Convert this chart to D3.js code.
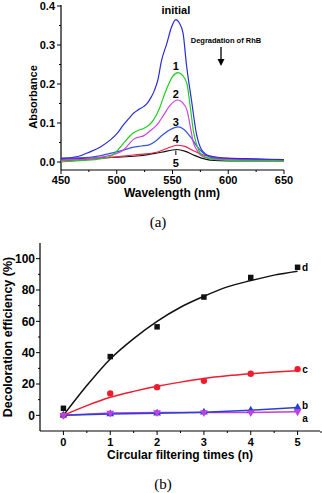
<!DOCTYPE html>
<html>
<head>
<meta charset="utf-8">
<script src="https://cdn.jsdelivr.net/npm/d3@7"></script>
<style>
  body { margin: 0; background: #fff; }
  svg { display: block; }
  text { font-family: "Liberation Sans", Arial, sans-serif; font-weight: bold; fill: #000; }
  .panel { font-family: "Liberation Serif", "Times New Roman", serif; font-weight: normal; }
</style>
</head>
<body>
<svg id="chart" width="322" height="493"></svg>
<script>
// ---- panel (a): absorption spectra ----
var spekNavn = ["initial", "1", "2", "3", "4", "5"];
var spekFarger = ["#2b2bd6", "#22cc22", "#cc44dd", "#3355dd", "#ee2244", "#111111"];
var spekInitial = [[450,0.009],[465,0.014],[476,0.026],[485,0.038],[494,0.056],[500,0.072],[506,0.095],[511,0.112],[515,0.125],[520,0.135],[524,0.142],[528,0.153],[531,0.167],[534,0.185],[537,0.212],[540,0.258],[545,0.305],[549,0.345],[553,0.365],[556,0.357],[559.5,0.33],[562.5,0.25],[567,0.159],[571.5,0.072],[576,0.032],[583,0.016],[600,0.01],[625,0.008],[650,0.006]];
var spek1 = [[450,0.0],[470,0.004],[485,0.008],[494,0.014],[500,0.028],[506,0.048],[511,0.064],[515,0.075],[520,0.082],[524,0.086],[529,0.095],[533,0.108],[538,0.135],[542,0.167],[546,0.196],[550,0.219],[555,0.229],[559,0.222],[563,0.2],[566,0.14],[568.7,0.08],[572,0.042],[575,0.022],[580,0.012],[586,0.007],[600,0.004],[650,0.002]];
var spek2 = [[450,0.005],[480,0.01],[494,0.017],[500,0.022],[506,0.031],[511,0.046],[515,0.058],[520,0.064],[524,0.067],[530,0.08],[536,0.095],[542,0.12],[548,0.146],[555,0.159],[559,0.152],[563,0.133],[566,0.09],[568.7,0.05],[572,0.03],[575,0.018],[582,0.01],[600,0.006],[650,0.004]];
var spek3 = [[450,0.01],[476,0.012],[494,0.022],[505,0.03],[515,0.038],[522,0.041],[529,0.044],[535,0.054],[541,0.069],[548,0.083],[555,0.09],[560,0.084],[566,0.065],[572,0.04],[578,0.022],[590,0.009],[650,0.006]];
var spek4 = [[450,0.003],[476,0.007],[495,0.012],[515,0.018],[536,0.025],[546,0.036],[554,0.043],[561,0.04],[568,0.03],[576,0.02],[583.6,0.014],[600,0.008],[650,0.006]];
var spek5 = [[450,0.007],[480,0.01],[521,0.016],[540,0.025],[554,0.032],[561,0.028],[568.7,0.018],[576,0.01],[583.6,0.005],[600,0.003],[650,0.003]];
var spekData = [spekInitial, spek1, spek2, spek3, spek4, spek5];
var spekEtikettY = [0.39, 0.245, 0.175, 0.103, 0.059, -0.002];
var aXTicks = [450, 500, 550, 600, 650];
var aYTicks = [0.0, 0.1, 0.2, 0.3, 0.4];

// ---- panel (b): decoloration efficiency ----
var sykluser = [0, 1, 2, 3, 4, 5];
var serieNavn = ["d", "c", "b", "a"];
var serieFarger = ["#111111", "#ee1c2e", "#2b3fd6", "#c040e0"];
var verdiD = [4.5, 37.5, 56.5, 75.5, 88, 94.5];
var verdiC = [0, 14, 18, 22, 26.5, 29.5];
var verdiB = [0, 0.8, 1.3, 2, 3.3, 5];
var verdiA = [0, 1.5, 1.8, 1.8, 1.8, 2.3];
var tilpassX = [0, 0.5, 1, 1.5, 2, 2.5, 3, 3.5, 4, 4.5, 5];
var tilpassD = [0, 19, 36, 49, 60, 69, 76, 82, 86, 89.5, 92];
var tilpassC = [0, 6.2, 11.5, 15.3, 18.5, 21.2, 23.5, 25.2, 26.5, 27.6, 28.5];
var bYTicks = [0, 20, 40, 60, 80, 100];

var svg = d3.select("#chart");

// ===== panel (a) =====
var xA = d3.scaleLinear().domain([450, 650]).range([61, 284]);
var yA = d3.scaleLinear().domain([0, 0.4]).range([162, 6]);
var aAksY = 170;

svg.append("line").attr("x1", 61).attr("x2", 61).attr("y1", 5).attr("y2", aAksY)
    .attr("stroke", "#000").attr("stroke-width", 1.2);
svg.append("line").attr("x1", 61).attr("x2", 284).attr("y1", aAksY).attr("y2", aAksY)
    .attr("stroke", "#000").attr("stroke-width", 1.2);

// y ticks
d3.range(0, 0.401, 0.05).forEach(function(v, i) {
    var maj = i % 2 === 0;
    svg.append("line").attr("x1", 61).attr("x2", maj ? 57 : 59)
        .attr("y1", yA(v)).attr("y2", yA(v)).attr("stroke", "#000").attr("stroke-width", 1);
});
aYTicks.forEach(function(v) {
    svg.append("text").attr("x", 55).attr("y", yA(v) + 4).attr("text-anchor", "end")
        .style("font-size", "11px").text(v.toFixed(1));
});
// x ticks
d3.range(450, 651, 25).forEach(function(v, i) {
    var maj = i % 2 === 0;
    svg.append("line").attr("x1", xA(v)).attr("x2", xA(v))
        .attr("y1", aAksY).attr("y2", aAksY + (maj ? 4 : 2)).attr("stroke", "#000").attr("stroke-width", 1);
});
aXTicks.forEach(function(v) {
    svg.append("text").attr("x", xA(v)).attr("y", aAksY + 14).attr("text-anchor", "middle")
        .style("font-size", "11px").text(v);
});
svg.append("text").attr("x", 172).attr("y", 197).attr("text-anchor", "middle")
    .style("font-size", "12px").text("Wavelength (nm)");
svg.append("text").attr("transform", "translate(37,97) rotate(-90)").attr("text-anchor", "middle")
    .style("font-size", "11px").text("Absorbance");

var spekLinje = d3.line().x(function(d) { return xA(d[0]); }).y(function(d) { return yA(d[1]); })
    .curve(d3.curveMonotoneX);
spekData.slice().reverse().forEach(function(s, i) {
    var j = spekData.length - 1 - i;
    svg.append("path").attr("d", spekLinje(s)).attr("fill", "none")
        .attr("stroke", spekFarger[j]).attr("stroke-width", 1.2);
});
spekNavn.forEach(function(n, i) {
    svg.append("text").attr("x", xA(553)).attr("y", yA(spekEtikettY[i]) + 4)
        .attr("text-anchor", "middle").style("font-size", "11px").text(n);
});
// liten pil mot kurve 5
svg.append("line").attr("x1", xA(553)).attr("x2", xA(553)).attr("y1", 150.5).attr("y2", 155)
    .attr("stroke", "#000").attr("stroke-width", 1);
svg.append("text").attr("x", 226).attr("y", 43).attr("text-anchor", "middle")
    .style("font-size", "7.5px").text("Degradation of RhB");
svg.append("line").attr("x1", 221).attr("x2", 221).attr("y1", 47).attr("y2", 61)
    .attr("stroke", "#000").attr("stroke-width", 1.3);
svg.append("path").attr("d", "M217.5,59 L224.5,59 L221,66 Z").attr("fill", "#000");

svg.append("text").attr("class", "panel").attr("x", 158).attr("y", 227).attr("text-anchor", "middle")
    .style("font-size", "15px").text("(a)");

// ===== panel (b) =====
var xB = d3.scaleLinear().domain([-0.5, 5.5]).range([40, 321]);
var yB = d3.scaleLinear().domain([-10, 110]).range([431, 243]);
var bAksY = 431;

svg.append("line").attr("x1", 40).attr("x2", 40).attr("y1", 243).attr("y2", bAksY)
    .attr("stroke", "#000").attr("stroke-width", 1.2);
svg.append("line").attr("x1", 40).attr("x2", 320).attr("y1", bAksY).attr("y2", bAksY)
    .attr("stroke", "#000").attr("stroke-width", 1.2);

d3.range(0, 101, 10).forEach(function(v, i) {
    var maj = i % 2 === 0;
    svg.append("line").attr("x1", 40).attr("x2", maj ? 36 : 38)
        .attr("y1", yB(v)).attr("y2", yB(v)).attr("stroke", "#000").attr("stroke-width", 1);
});
bYTicks.forEach(function(v) {
    svg.append("text").attr("x", 35).attr("y", yB(v) + 4.2).attr("text-anchor", "end")
        .style("font-size", "12px").text(v);
});
d3.range(0, 5.51, 0.5).forEach(function(v, i) {
    var maj = i % 2 === 0;
    svg.append("line").attr("x1", xB(v)).attr("x2", xB(v))
        .attr("y1", bAksY).attr("y2", bAksY + (maj ? 4 : 2)).attr("stroke", "#000").attr("stroke-width", 1);
});
sykluser.forEach(function(v) {
    svg.append("text").attr("x", xB(v)).attr("y", bAksY + 15).attr("text-anchor", "middle")
        .style("font-size", "11px").text(v);
});
svg.append("text").attr("x", 180).attr("y", 459).attr("text-anchor", "middle")
    .style("font-size", "12px").text("Circular filtering times (n)");
svg.append("text").attr("transform", "translate(12,337) rotate(-90)").attr("text-anchor", "middle")
    .style("font-size", "12.5px").text("Decoloration efficiency (%)");

var bLinje = d3.line().x(function(d) { return xB(d[0]); }).y(function(d) { return yB(d[1]); });
var glattLinje = d3.line().x(function(d) { return xB(d[0]); }).y(function(d) { return yB(d[1]); })
    .curve(d3.curveMonotoneX);

// lines
svg.append("path").attr("d", bLinje(d3.zip(sykluser, verdiA))).attr("fill", "none")
    .attr("stroke", serieFarger[3]).attr("stroke-width", 1.5);
svg.append("path").attr("d", bLinje(d3.zip(sykluser, verdiB))).attr("fill", "none")
    .attr("stroke", serieFarger[2]).attr("stroke-width", 1.5);
svg.append("path").attr("d", glattLinje(d3.zip(tilpassX, tilpassC))).attr("fill", "none")
    .attr("stroke", serieFarger[1]).attr("stroke-width", 1.5);
svg.append("path").attr("d", glattLinje(d3.zip(tilpassX, tilpassD))).attr("fill", "none")
    .attr("stroke", serieFarger[0]).attr("stroke-width", 1.5);

// markers
var symD = d3.symbol().type(d3.symbolSquare).size(30);
var symC = d3.symbol().type(d3.symbolCircle).size(32);
var symB = d3.symbol().type(d3.symbolTriangle).size(26);
sykluser.forEach(function(x, i) {
    svg.append("path").attr("d", symD()).attr("fill", serieFarger[0])
        .attr("transform", "translate(" + xB(x) + "," + yB(verdiD[i]) + ")");
    svg.append("path").attr("d", symC()).attr("fill", serieFarger[1])
        .attr("transform", "translate(" + xB(x) + "," + yB(verdiC[i]) + ")");
    svg.append("path").attr("d", symB()).attr("fill", serieFarger[2])
        .attr("transform", "translate(" + xB(x) + "," + yB(verdiB[i]) + ")");
    svg.append("path").attr("d", symB()).attr("fill", serieFarger[3])
        .attr("transform", "translate(" + xB(x) + "," + yB(verdiA[i]) + ") rotate(180)");
});

var etikettVerdi = [94.5, 29.5, 6.5, -1.5];
serieNavn.forEach(function(n, i) {
    svg.append("text").attr("x", 305).attr("y", yB(etikettVerdi[i]) + 4)
        .attr("text-anchor", "middle").style("font-size", "10px").text(n);
});

svg.append("text").attr("class", "panel").attr("x", 163).attr("y", 489).attr("text-anchor", "middle")
    .style("font-size", "15px").text("(b)");
</script>
</body>
</html>
